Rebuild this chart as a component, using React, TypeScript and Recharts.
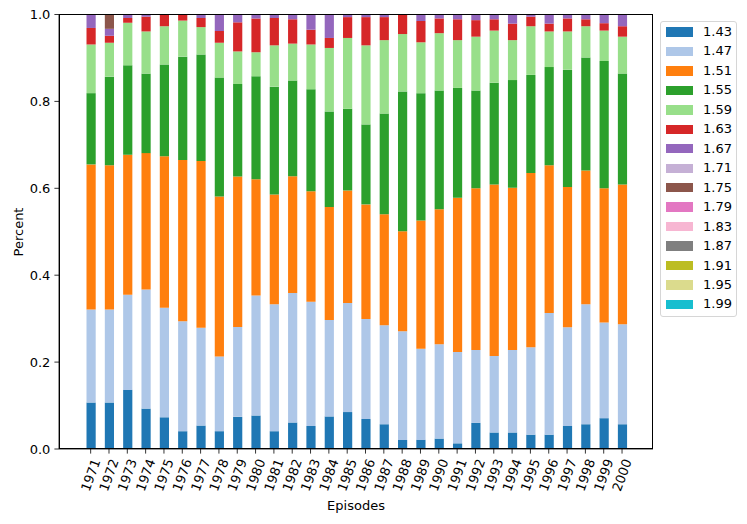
import React from 'react';
import { BarChart, Bar, XAxis, YAxis, Label } from 'recharts';

const years = ['1971','1972','1973','1974','1975','1976','1977','1978','1979','1980','1981','1982','1983','1984','1985','1986','1987','1988','1989','1990','1991','1992','1993','1994','1995','1996','1997','1998','1999','2000'];

const seriesNames = ['1.43','1.47','1.51','1.55','1.59','1.63','1.67','1.71','1.75','1.79','1.83','1.87','1.91','1.95','1.99'];
const seriesColors = ['#1f77b4','#aec7e8','#ff7f0e','#2ca02c','#98df8a','#d62728','#9467bd','#c5b0d5','#8c564b','#e377c2','#f7b6d2','#7f7f7f','#bcbd22','#dbdb8d','#17becf'];

const s143 = [0.107,0.107,0.136,0.093,0.073,0.041,0.054,0.041,0.074,0.077,0.041,0.061,0.053,0.075,0.085,0.069,0.057,0.021,0.021,0.024,0.013,0.060,0.038,0.038,0.033,0.033,0.053,0.057,0.071,0.057];
const s147 = [0.214,0.214,0.219,0.274,0.252,0.253,0.225,0.172,0.207,0.276,0.292,0.298,0.286,0.222,0.251,0.230,0.228,0.250,0.210,0.217,0.210,0.168,0.176,0.190,0.201,0.280,0.227,0.276,0.220,0.230];
const s151 = [0.334,0.332,0.322,0.314,0.349,0.371,0.384,0.368,0.346,0.268,0.253,0.269,0.254,0.260,0.259,0.264,0.255,0.230,0.295,0.311,0.355,0.372,0.395,0.373,0.401,0.340,0.323,0.308,0.309,0.322];
const s155 = [0.164,0.204,0.206,0.183,0.211,0.238,0.245,0.274,0.213,0.237,0.248,0.220,0.235,0.220,0.188,0.184,0.232,0.322,0.293,0.273,0.253,0.225,0.234,0.248,0.226,0.226,0.270,0.260,0.293,0.255];
const s159 = [0.112,0.078,0.098,0.097,0.088,0.083,0.063,0.080,0.075,0.055,0.095,0.085,0.103,0.146,0.163,0.182,0.169,0.132,0.117,0.132,0.110,0.124,0.120,0.092,0.112,0.082,0.088,0.072,0.070,0.085];
const s163 = [0.038,0.016,0.011,0.034,0.027,0.014,0.021,0.027,0.067,0.078,0.063,0.056,0.034,0.023,0.048,0.065,0.053,0.045,0.049,0.034,0.048,0.038,0.026,0.038,0.022,0.018,0.030,0.016,0.017,0.024];
const s167 = [0.031,0.016,0.008,0.005,0,0,0.008,0.038,0.018,0.009,0.008,0.011,0.035,0.054,0.006,0.006,0.006,0,0.015,0.009,0.011,0.013,0.011,0.021,0.005,0.021,0.009,0.011,0.020,0.027];
const s171 = [0,0,0,0,0,0,0,0,0,0,0,0,0,0,0,0,0,0,0,0,0,0,0,0,0,0,0,0,0,0];
const s175 = [0,0.033,0,0,0,0,0,0,0,0,0,0,0,0,0,0,0,0,0,0,0,0,0,0,0,0,0,0,0,0];
const s179 = [0,0,0,0,0,0,0,0,0,0,0,0,0,0,0,0,0,0,0,0,0,0,0,0,0,0,0,0,0,0];
const s183 = [0,0,0,0,0,0,0,0,0,0,0,0,0,0,0,0,0,0,0,0,0,0,0,0,0,0,0,0,0,0];
const s187 = [0,0,0,0,0,0,0,0,0,0,0,0,0,0,0,0,0,0,0,0,0,0,0,0,0,0,0,0,0,0];
const s191 = [0,0,0,0,0,0,0,0,0,0,0,0,0,0,0,0,0,0,0,0,0,0,0,0,0,0,0,0,0,0];
const s195 = [0,0,0,0,0,0,0,0,0,0,0,0,0,0,0,0,0,0,0,0,0,0,0,0,0,0,0,0,0,0];
const s199 = [0,0,0,0,0,0,0,0,0,0,0,0,0,0,0,0,0,0,0,0,0,0,0,0,0,0,0,0,0,0];

const seriesValues = [s143,s147,s151,s155,s159,s163,s167,s171,s175,s179,s183,s187,s191,s195,s199];
const yTicks = [0, 0.2, 0.4, 0.6, 0.8, 1.0];

const keyOf = (k: number) => 'k' + k;

const data = years.map((y, i) => {
  const row: any = { year: y };
  seriesValues.forEach((arr, k) => { row[keyOf(k)] = arr[i]; });
  return row;
});

const FONT = "'DejaVu Sans', sans-serif";

const XTick = (props: any) => {
  const { x, y, payload } = props;
  return (
    <g transform={`translate(${x},${y + 19.5})`}>
      <text transform="rotate(-70)" textAnchor="middle" dominantBaseline="central" fontSize={13} fontFamily={FONT} fill="#000">
        {payload.value}
      </text>
    </g>
  );
};

const YTick = (props: any) => {
  const { x, y, payload } = props;
  return (
    <text x={x} y={y} textAnchor="end" dominantBaseline="central" fontSize={13} fontFamily={FONT} fill="#000">
      {Number(payload.value).toFixed(1)}
    </text>
  );
};

export default function App() {
  return (
    <div style={{ position: 'absolute', left: 0, top: 0, width: 747, height: 524, background: '#fff' }}>
      <BarChart
        width={747}
        height={524}
        data={data}
        margin={{ top: 14.5, right: 94, bottom: 0, left: 9 }}
        barCategoryGap={0}
      >
        <XAxis
          dataKey="year"
          type="category"
          interval={0}
          height={75}
          padding={{ left: 22.5, right: 21.8 }}
          tickSize={4.6}
          tickMargin={2}
          tickLine={{ stroke: '#000', strokeWidth: 0.8 }}
          axisLine={{ stroke: '#000', strokeWidth: 0.8 }}
          tick={<XTick />}
        >
          <Label
            content={() => (
              <text x={356} y={510} textAnchor="middle" fontSize={13} fontFamily={FONT} fill="#000">Episodes</text>
            )}
          />
        </XAxis>
        <YAxis
          type="number"
          domain={[0, 1]}
          ticks={yTicks}
          width={50}
          tickSize={4.6}
          tickMargin={4}
          tickLine={{ stroke: '#000', strokeWidth: 0.8 }}
          axisLine={{ stroke: '#000', strokeWidth: 0.8 }}
          tick={<YTick />}
        >
          <Label
            content={() => (
              <text x={18} y={232} transform="rotate(-90 18 232)" textAnchor="middle" dominantBaseline="central" fontSize={13} fontFamily={FONT} fill="#000">Percent</text>
            )}
          />
        </YAxis>
        {seriesNames.map((n, k) => (
          <Bar
            key={n}
            dataKey={keyOf(k)}
            name={n}
            stackId="a"
            fill={seriesColors[k]}
            barSize={9.2}
            isAnimationActive={false}
          />
        ))}
      </BarChart>
      <div
        style={{
          position: 'absolute',
          left: 59 - 0.4,
          top: 14.5 - 0.4,
          width: 594 + 0.8,
          height: 434.5 + 0.8,
          boxSizing: 'border-box',
          border: '0.8px solid #000',
          pointerEvents: 'none',
        }}
      />
      <div
        style={{
          position: 'absolute',
          left: 660,
          top: 21,
          width: 77,
          height: 296,
          boxSizing: 'border-box',
          border: '1px solid #d6d6d6',
          borderRadius: 3,
          background: 'rgba(255,255,255,0.8)',
          fontFamily: FONT,
          fontSize: 13,
        }}
      >
        {seriesNames.map((n, k) => {
          const cy = 10 + k * 19.46;
          return (
            <React.Fragment key={n}>
              <div style={{ position: 'absolute', left: 5, top: cy - 4.7, width: 27, height: 9.4, background: seriesColors[k] }} />
              <div style={{ position: 'absolute', left: 42, top: cy - 8, lineHeight: '16px', color: '#000', whiteSpace: 'nowrap' }}>{n}</div>
            </React.Fragment>
          );
        })}
      </div>
    </div>
  );
}
